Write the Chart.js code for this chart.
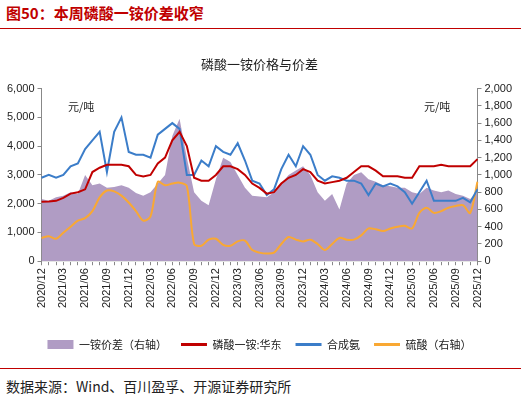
<!DOCTYPE html>
<html><head><meta charset="utf-8">
<script src="https://cdn.jsdelivr.net/npm/chart.js@4.4.0/dist/chart.umd.min.js"></script>
<style>
body{margin:0;width:521px;height:405px;background:#fff;font-family:"Noto Sans CJK SC";position:relative;overflow:hidden}
#t{position:absolute;left:6px;top:2px;color:#c00000;font-weight:bold;font-size:15px}
#l1{position:absolute;left:0;top:28px;width:521px;height:1px;background:#c00000}
#l2{position:absolute;left:0;top:368px;width:521px;height:1px;background:#c00000}
#s{position:absolute;left:6px;top:376px;font-size:14px;color:#222}
#c{position:absolute;left:0;top:48px}
.u{position:absolute;font-size:11px;color:#222}
</style></head><body>
<div id="t">图50：本周磷酸一铵价差收窄</div><div id="l1"></div>
<div id="c"><canvas id="cv" width="521" height="312"></canvas></div>
<div class="u" style="left:68px;top:98px">元/吨</div>
<div class="u" style="left:424px;top:98px">元/吨</div>
<div id="l2"></div>
<div id="s">数据来源：Wind、百川盈孚、开源证券研究所</div>
<script>
const labels=[];for(let y=2020,m=12;labels.length<61;){labels.push(y+'/'+String(m).padStart(2,'0'));m++;if(m>12){m=1;y++;}}
const spread=[720,700,740,760,800,780,1000,880,900,850,860,880,850,790,760,800,900,1000,1450,1650,1200,800,700,650,950,1200,1150,1000,850,760,750,740,800,900,1000,1050,1100,1000,800,700,780,600,900,1000,1030,950,920,880,870,850,850,800,780,850,820,800,820,780,760,720,800];
const map=[2070,2080,2100,2200,2350,2400,2500,3100,3250,3350,3350,3350,3300,3000,2950,3000,3400,3600,4200,4500,4000,2900,2800,2800,3000,3300,3300,3200,3000,2700,2550,2350,2400,2700,2900,3000,3200,3100,2800,2700,2750,2800,2900,3100,3300,3300,3150,2950,2950,2950,2900,2900,3300,3300,3300,3350,3300,3300,3300,3300,3550];
const ammonia=[2900,3000,2900,3000,3300,3400,3900,4200,4500,3100,4500,5000,3800,3700,3700,3600,4400,4600,4800,4600,3000,3000,3500,3300,4000,3800,3700,4100,3500,2800,2700,2300,2500,3200,3700,3300,4000,3700,3000,2800,2950,2900,2800,2800,2700,2300,2700,2600,2700,2600,2400,2000,2400,2800,2100,2100,2100,2100,2200,2050,2500];
const sulfuric=[270,290,260,330,400,470,500,580,740,820,810,760,680,580,470,520,920,880,900,910,870,200,180,250,260,190,180,230,240,130,100,90,100,200,280,250,230,250,200,130,200,270,250,250,300,380,370,350,380,400,410,380,560,620,560,580,620,640,650,560,920];
const ax={drawOnChartArea:false,drawTicks:true,tickLength:4,color:'#888'};
new Chart(document.getElementById('cv'),{data:{labels,datasets:[
{type:'line',label:'一铵价差（右轴）',data:spread,yAxisID:'y1',fill:'origin',backgroundColor:'#b09cc4',borderColor:'#b09cc4',borderWidth:0,pointRadius:0,tension:0,order:4,pointStyle:'rect'},
{type:'line',label:'磷酸一铵:华东',data:map,yAxisID:'y',borderColor:'#c00000',borderWidth:2,pointRadius:0,fill:false,order:1,pointStyle:'line'},
{type:'line',label:'合成氨',data:ammonia,yAxisID:'y',borderColor:'#3b7dc9',borderWidth:2,pointRadius:0,fill:false,order:2,pointStyle:'line'},
{type:'line',label:'硫酸（右轴）',data:sulfuric,yAxisID:'y1',borderColor:'#f9a833',borderWidth:2,pointRadius:0,fill:false,tension:0.3,order:3,pointStyle:'line'}]},
options:{responsive:false,animation:false,layout:{padding:{left:4,right:6,top:0}},
plugins:{title:{display:true,text:'磷酸一铵价格与价差',color:'#222',font:{size:13,family:'Noto Sans CJK SC',weight:'normal'},padding:{top:8,bottom:17}},
legend:{position:'bottom',labels:{usePointStyle:true,pointStyleWidth:26,boxHeight:9,sort:(a,b)=>a.datasetIndex-b.datasetIndex,color:'#222',font:{size:11,family:'Noto Sans CJK SC'},padding:14,
generateLabels:c=>Chart.defaults.plugins.legend.labels.generateLabels(c).map(l=>{if(l.pointStyle==='line')l.lineWidth=3;return l;})}}},
scales:{x:{offset:false,grid:ax,afterFit:s=>{s.height+=14;},ticks:{autoSkip:false,maxRotation:90,minRotation:90,color:'#222',font:{size:11},callback:(v,i)=>i%3===0?labels[i]:''}},
y:{min:0,max:6000,ticks:{stepSize:1000,color:'#222',font:{size:11},callback:v=>v.toLocaleString('en-US')},grid:ax,border:{color:'#888'}},
y1:{position:'right',min:0,max:2000,ticks:{stepSize:200,color:'#222',font:{size:11},callback:v=>v.toLocaleString('en-US')},grid:ax,border:{color:'#888'}}}}});
</script></body></html>
